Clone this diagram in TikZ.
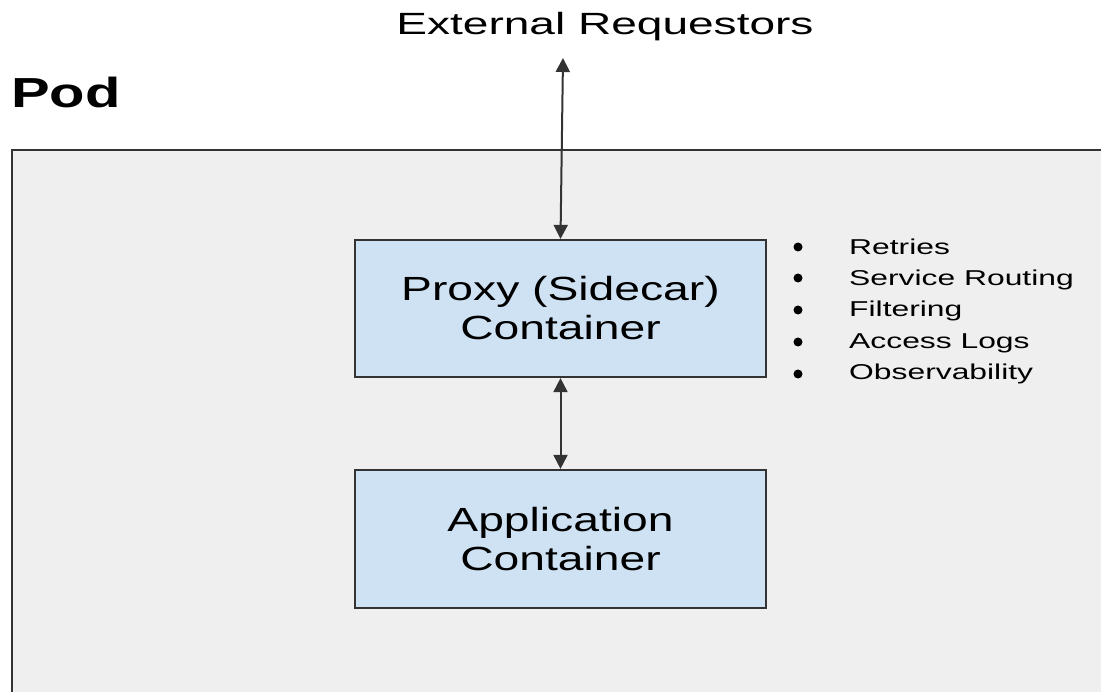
\documentclass[tikz,border=0pt]{standalone}
\usepackage{fontspec}
\setmainfont{Liberation Sans}
\usetikzlibrary{arrows.meta}
\newcommand{\hs}[2]{\scalebox{#1}[1]{#2}}
\definecolor{podfill}{HTML}{EFEFEF}
\definecolor{boxblue}{HTML}{CFE2F3}
\definecolor{edge}{HTML}{333333}
\begin{document}
\begin{tikzpicture}[x=1pt,y=1pt,
  box/.style={draw=edge, line width=2.2pt, fill=boxblue, minimum width=411pt, minimum height=137pt, inner sep=0pt, align=center, font=\fontsize{33.5}{39}\selectfont},
  conn/.style={{Triangle[length=14pt,width=14pt]}-{Triangle[length=14pt,width=14pt]}, line width=2pt, draw=black!80},
  item/.style={anchor=base west, inner sep=0pt, font=\fontsize{21.5}{24}\selectfont},
  dot/.style={circle, fill=black, inner sep=0pt, minimum size=9pt}]
\useasboundingbox (0,0) rectangle (1101,-692);
\clip (0,0) rectangle (1101,-692);
\fill[white] (0,0) rectangle (1101,-692);
% pod
\node[draw=edge, line width=1.8pt, fill=podfill, anchor=north west, minimum width=1120pt, minimum height=600pt, inner sep=0pt] (pod) at (11,-149) {};
\node[anchor=base west, inner sep=0pt, font=\fontsize{42}{42}\selectfont\bfseries] (podlabel) at (11,-108) {\hs{1.38}{Pod}};
% external
\node[anchor=base, inner sep=0pt, font=\fontsize{30.7}{34}\selectfont] (extlabel) at (605,-35) {\hs{1.5}{External Requestors}};
\coordinate (ext) at (563,-58);
% boxes
\node[box] (proxy) at (560.5,-308.5) {\hs{1.38}{Proxy (Sidecar)}\\\hs{1.38}{Container}};
\node[box, minimum height=138pt] (app) at (560.5,-539) {\hs{1.38}{Application}\\\hs{1.38}{Container}};
% connectors
\draw[conn] (ext) -- (proxy.north);
\draw[conn] (proxy.south) -- (app.north);
% bullet list
\node[item] (i1) at (849,-255) {\hs{1.48}{Retries}};
\node[item] (i2) at (849,-286) {\hs{1.48}{Service Routing}};
\node[item] (i3) at (849,-317) {\hs{1.48}{Filtering}};
\node[item] (i4) at (849,-349) {\hs{1.48}{Access Logs}};
\node[item] (i5) at (849,-380) {\hs{1.48}{Observability}};
\node[dot] (d1) at (798,-247) {};
\node[dot] (d2) at (798,-278) {};
\node[dot] (d3) at (798,-310) {};
\node[dot] (d4) at (798,-342) {};
\node[dot] (d5) at (798,-374) {};
\end{tikzpicture}
\end{document}
